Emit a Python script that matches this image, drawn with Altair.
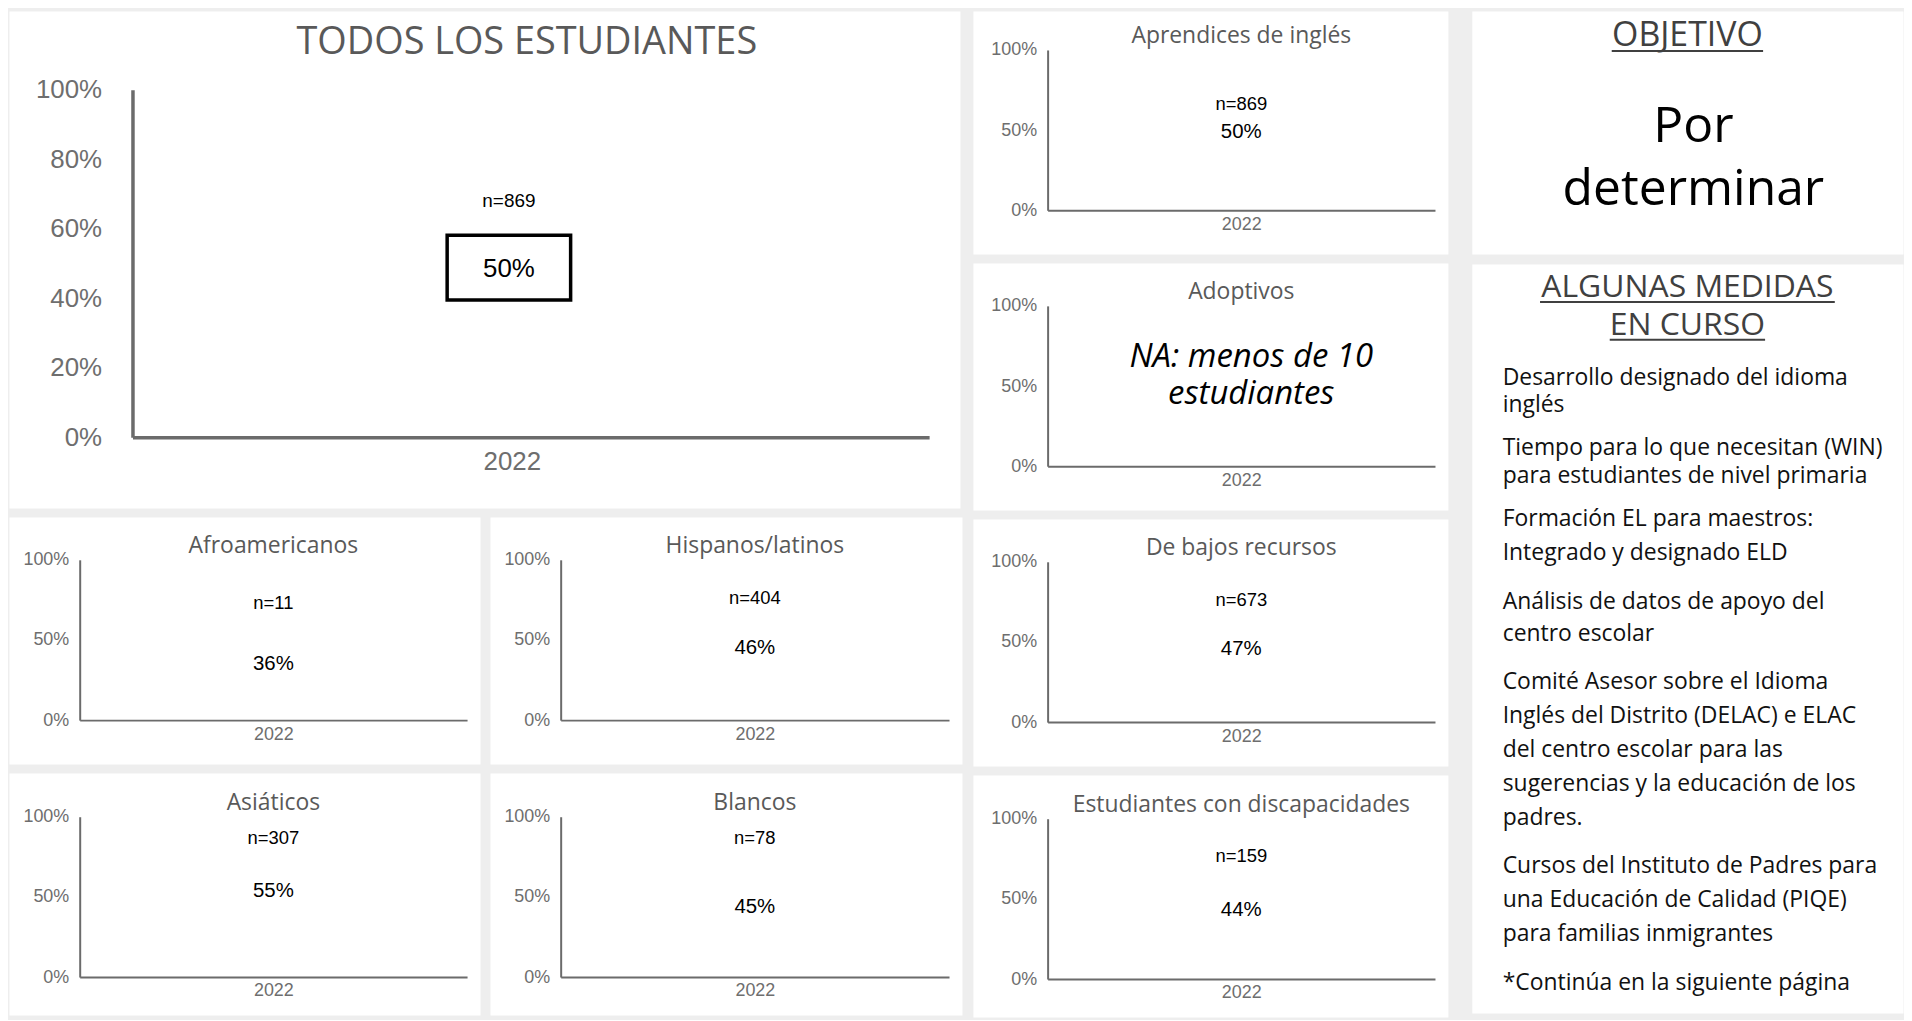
import altair as alt
import pandas as pd

# ---------------- data ----------------
groups = ["TODOS LOS ESTUDIANTES", "Aprendices de inglés", "Adoptivos",
          "Afroamericanos", "Hispanos/latinos", "De bajos recursos",
          "Asiáticos", "Blancos", "Estudiantes con discapacidades"]
year = ["2022"]
pct_met = [0.50, 0.50, None, 0.36, 0.46, 0.47, 0.55, 0.45, 0.44]
n_students = [869, 869, None, 11, 404, 673, 307, 78, 159]
n_label_level = [0.68, 0.66, None, 0.73, 0.76, 0.76, 0.87, 0.87, 0.77]
na_note = ["NA: menos de 10", "estudiantes"]
na_note_level = 0.565
ticks_main = [0, 0.2, 0.4, 0.6, 0.8, 1.0]
ticks_small = [0, 0.5, 1.0]

goal_heading = "OBJETIVO"
goal_lines = ["Por", "determinar"]
actions_heading = ["ALGUNAS MEDIDAS", "EN CURSO"]
action_items = [
    ["Desarrollo designado del idioma", "inglés"],
    ["Tiempo para lo que necesitan (WIN)", "para estudiantes de nivel primaria"],
    ["Formación EL para maestros:", "Integrado y designado ELD"],
    ["Análisis de datos de apoyo del", "centro escolar"],
    ["Comité Asesor sobre el Idioma", "Inglés del Distrito (DELAC) e  ELAC",
     "del centro escolar para las", "sugerencias y la educación de los", "padres."],
    ["Cursos del Instituto de Padres para", "una Educación de Calidad (PIQE)",
     "para familias inmigrantes"],
    ["*Continúa en la siguiente página"],
]

# ---------------- style ----------------
BG = "#eeeeee"
AXIS_GRAY = "#6b6b6b"
LABEL_GRAY = "#6e6e6e"
TITLE_GRAY = "#595959"
HEAD_GRAY = "#404040"
NUM_FONT = "Liberation Sans"
TXT_FONT = "Open Sans"
BOX_PATH = "M-1,-0.524L1,-0.524L1,0.524L-1,0.524Z"


def geom_small(w, h, shift, ax0):
    ax1 = w - 13
    return dict(w=w, h=h, ax0=ax0, ax1=ax1, y0=204 + shift, y1=43 + shift, dw=2,
                yfs=18, ypad=11, xfs=18, xpad=5, xoff=0, ticks=ticks_small,
                tfs=23, tbase=36 + shift, tx=(ax0 + ax1) / 2,
                nfs=18.5, vfs=20.5, vdx=0, vdy=2)


geom_main = dict(w=955, h=499, ax0=124, ax1=924, y0=428, y1=79, dw=3.5,
                 yfs=26, ypad=31, xfs=26, xpad=11, xoff=-19, ticks=ticks_main,
                 tfs=38, tbase=43, tx=520, nfs=19, vfs=26, vdx=-22, vdy=6)


def encodings(g):
    x = alt.X("year:N",
              scale=alt.Scale(type="point", domain=year, range=[g["ax0"], g["ax1"]], padding=0.5),
              axis=alt.Axis(title=None, grid=False, ticks=False, tickSize=0, labelAngle=0,
                            domainColor=AXIS_GRAY, domainWidth=g["dw"],
                            labelFont=NUM_FONT, labelFontSize=g["xfs"], labelColor=LABEL_GRAY,
                            labelPadding=g["xpad"], labelOffset=g["xoff"],
                            offset=g["y0"] - g["h"]))

    def y(field):
        return alt.Y(f"{field}:Q",
                     scale=alt.Scale(domain=[0, 1], range=[g["y0"], g["y1"]], nice=False, zero=False),
                     axis=alt.Axis(title=None, values=g["ticks"], format=".0%", grid=False,
                                   ticks=False, tickSize=0, domainColor=AXIS_GRAY,
                                   domainWidth=g["dw"], labelFont=NUM_FONT,
                                   labelFontSize=g["yfs"], labelColor=LABEL_GRAY,
                                   labelPadding=g["ypad"], offset=-g["ax0"]))
    return x, y


def title_layer(i, g):
    return alt.Chart(pd.DataFrame({"t": [groups[i]]})).mark_text(
        font=TXT_FONT, fontSize=g["tfs"], color=TITLE_GRAY, align="center",
        baseline="alphabetic").encode(x=alt.value(g["tx"]), y=alt.value(g["tbase"]), text="t:N")


def panel(i, g, boxed=False):
    x, y = encodings(g)
    df = pd.DataFrame({"year": year,
                       "pct": [pct_met[i]],
                       "pct_label": [f"{pct_met[i] * 100:.0f}%"],
                       "n_label": [f"n={n_students[i]}"],
                       "n_at": [n_label_level[i]]})
    n_txt = alt.Chart(df).mark_text(font=NUM_FONT, fontSize=g["nfs"], color="black",
                                    baseline="middle", dx=g["vdx"]).encode(
        x=x, y=y("n_at"), text="n_label:N")
    v_txt = alt.Chart(df).mark_text(font=NUM_FONT, fontSize=g["vfs"], color="black",
                                    baseline="middle", dx=g["vdx"], dy=g["vdy"]).encode(
        x=x, y=y("pct"), text="pct_label:N")
    layers = [n_txt, v_txt]
    if boxed:
        box = alt.Chart(df).mark_point(shape=BOX_PATH, size=124 ** 2, filled=False,
                                       stroke="black", strokeWidth=3.5, opacity=1,
                                       xOffset=-22, yOffset=4).encode(x=x, y=y("pct"))
        layers.insert(0, box)
    layers.append(title_layer(i, g))
    return alt.layer(*layers).properties(width=g["w"], height=g["h"])


def na_panel(i, g):
    x, y = encodings(g)
    df = pd.DataFrame({"year": year, "note": ["\n".join(na_note)], "at": [na_note_level]})
    t = alt.Chart(df).mark_text(font=TXT_FONT, fontSize=33, fontStyle="italic", color="black",
                                baseline="middle", lineBreak="\n", lineHeight=38,
                                dx=10, dy=-19).encode(
        x=x, y=y("at"), text="note:N")
    return alt.layer(t, title_layer(i, g)).properties(width=g["w"], height=g["h"])


def ident(n):
    return alt.Scale(domain=[0, n], range=[0, n], nice=False, zero=False)


def text_layer(df, w, h, **mark):
    return alt.Chart(df).mark_text(**mark).encode(
        x=alt.X("x:Q", scale=ident(w), axis=None),
        y=alt.Y("y:Q", scale=ident(h), axis=None),
        text="t:N")


def rule_layer(df, w, h, color):
    return alt.Chart(df).mark_rule(color=color, strokeWidth=2).encode(
        x=alt.X("x:Q", scale=ident(w), axis=None), x2="x2:Q",
        y=alt.Y("y:Q", scale=ident(h), axis=None))


# ---------------- panels ----------------
W_C1, W_L, W_R, W_C2, W_C3 = 955, 473, 474, 477, 433

main = panel(0, geom_main, boxed=True)
aprendices = panel(1, geom_small(W_C2, 244, -4, 75))
adoptivos = na_panel(2, geom_small(W_C2, 248, 0, 75))
afro = panel(3, geom_small(W_L, 248, 0, 71))
hisp = panel(4, geom_small(W_R, 248, 0, 71))
bajos = panel(5, geom_small(W_C2, 248, 0, 75))
asia = panel(6, geom_small(W_L, 243, 1, 71))
blancos = panel(7, geom_small(W_R, 243, 1, 71))
discap = panel(8, geom_small(W_C2, 243, 1, 75))

# Objetivo panel
H_OBJ, H_MED = 244, 752
cx = W_C3 / 2
obj_head = text_layer(pd.DataFrame({"t": [goal_heading], "x": [cx], "y": [35]}), W_C3, H_OBJ,
                      font=TXT_FONT, fontSize=34, color=HEAD_GRAY, align="center", baseline="alphabetic")
obj_rule = rule_layer(pd.DataFrame({"x": [cx - 76], "x2": [cx + 76], "y": [40]}), W_C3, H_OBJ, HEAD_GRAY)
obj_body = text_layer(pd.DataFrame({"t": goal_lines, "x": [cx + 6] * 2, "y": [131, 195]}), W_C3, H_OBJ,
                      font=TXT_FONT, fontSize=50, color="black", align="center", baseline="alphabetic")
objetivo = alt.layer(obj_rule, obj_head, obj_body).properties(width=W_C3, height=H_OBJ)

# Medidas panel
med_head = text_layer(pd.DataFrame({"t": actions_heading, "x": [cx] * 2, "y": [33, 71]}), W_C3, H_MED,
                      font=TXT_FONT, fontSize=32, color=HEAD_GRAY, align="center", baseline="alphabetic")
med_rule = rule_layer(pd.DataFrame({"x": [cx - 148, cx - 78], "x2": [cx + 148, cx + 78], "y": [38, 76]}),
                      W_C3, H_MED, HEAD_GRAY)
line_h = [28, 28, 34, 33, 34, 34, 34]
rows_t, rows_y = [], []
base = 121
for item, lh in zip(action_items, line_h):
    for k, line in enumerate(item):
        rows_t.append(line)
        rows_y.append(base + k * lh)
    base = base + (len(item) - 1) * lh + lh + 15
med_body = text_layer(pd.DataFrame({"t": rows_t, "x": [31] * len(rows_t), "y": rows_y}), W_C3, H_MED,
                      font=TXT_FONT, fontSize=23, color="#111111", align="left", baseline="alphabetic")
medidas = alt.layer(med_rule, med_head, med_body).properties(width=W_C3, height=H_MED)

# ---------------- layout ----------------
col1 = alt.vconcat(main,
                   alt.hconcat(afro, hisp, spacing=8),
                   alt.hconcat(asia, blancos, spacing=8),
                   spacing=7)
col2 = alt.vconcat(aprendices, adoptivos, bajos, discap, spacing=7)
col3 = alt.vconcat(objetivo, medidas, spacing=8)

chart = alt.hconcat(alt.hconcat(col1, col2, spacing=9), col3, spacing=22).properties(
    background=BG, padding=0
).configure_view(fill="white", stroke="transparent")

chart.save("out.html", embed_options={"renderer": "svg", "actions": False})
